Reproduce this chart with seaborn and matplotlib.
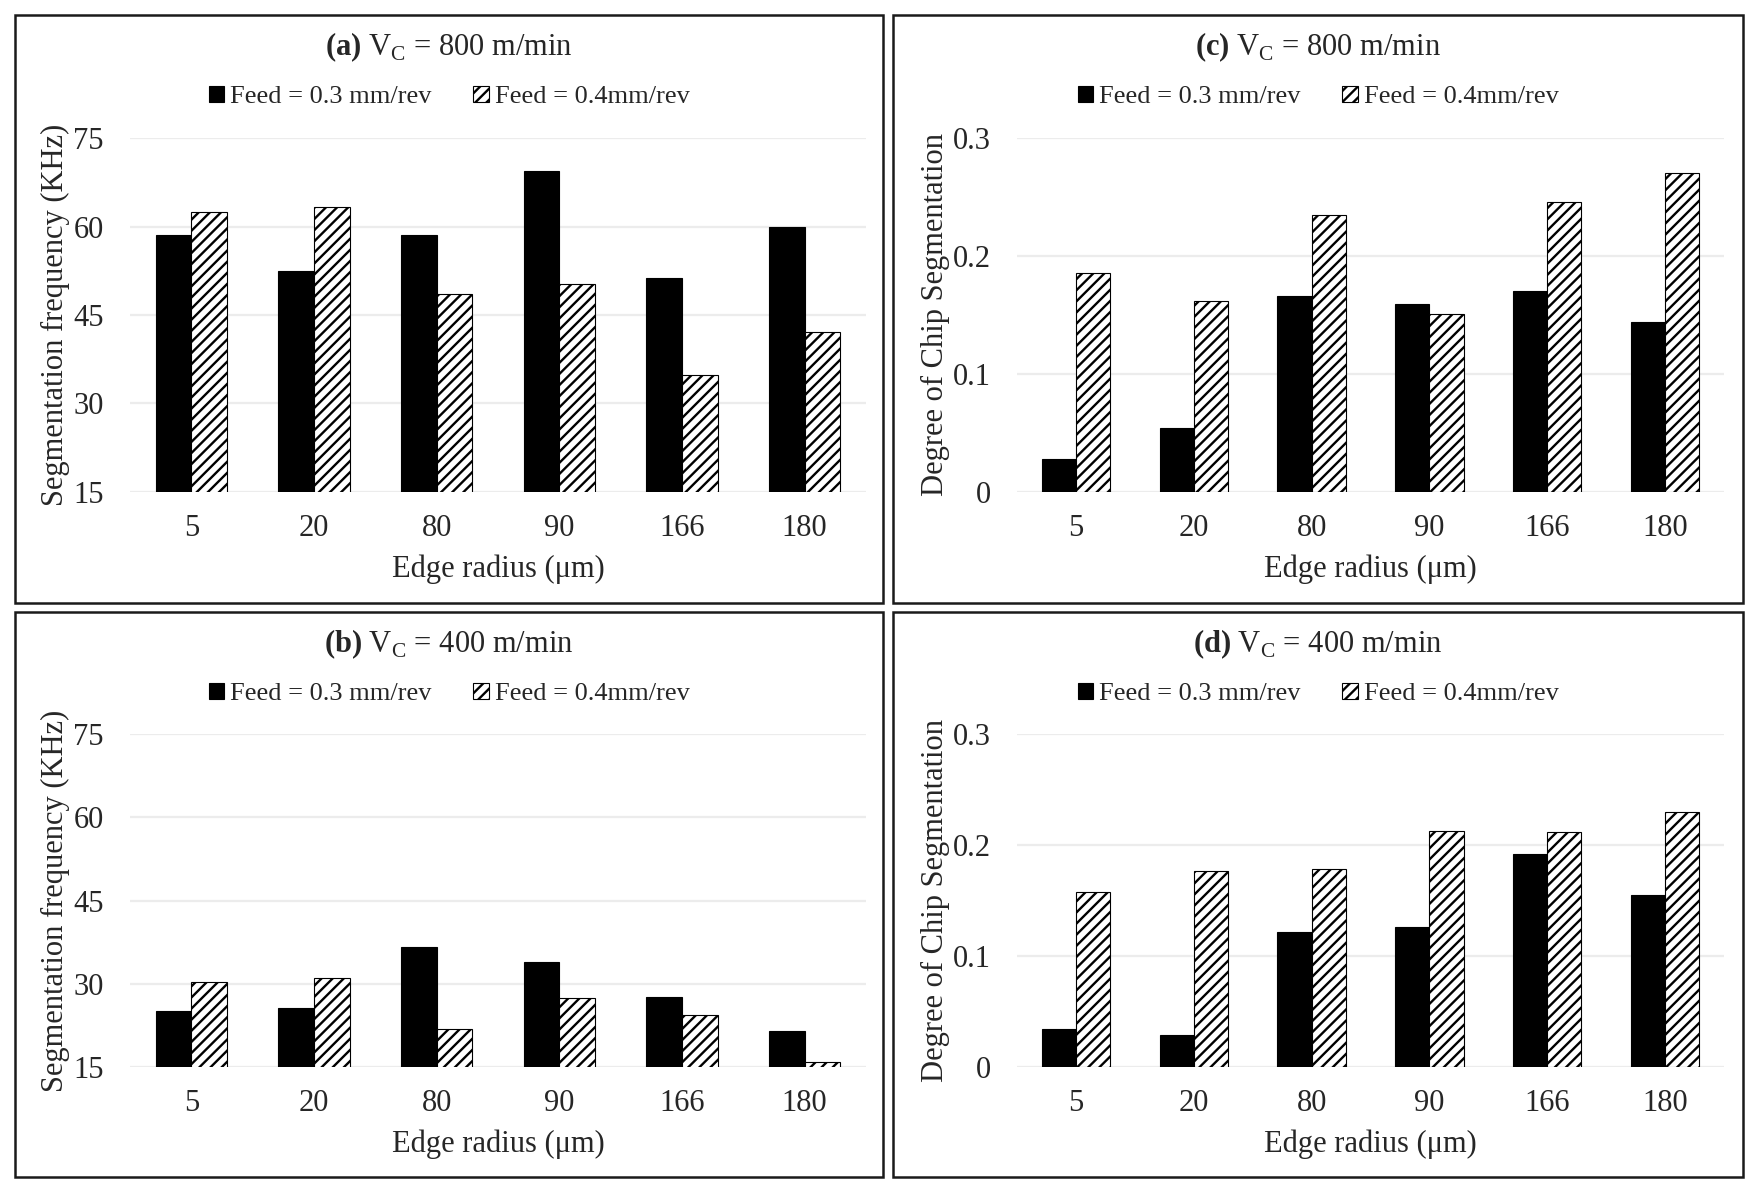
import pandas as pd
import numpy as np
import matplotlib
matplotlib.use('Agg')
import matplotlib.pyplot as plt
import seaborn as sns
from matplotlib.patches import Rectangle

# Data
radii = ['5', '20', '80', '90', '166', '180']
feeds = ['Feed = 0.3 mm/rev', 'Feed = 0.4mm/rev']

freq_800_f03 = [58.5, 52.5, 58.5, 69.4, 51.3, 60.0]
freq_800_f04 = [62.5, 63.3, 48.5, 50.2, 34.8, 42.1]
freq_400_f03 = [25.1, 25.6, 36.6, 34.0, 27.7, 21.4]
freq_400_f04 = [30.3, 31.0, 21.8, 27.5, 24.3, 15.9]

deg_800_f03 = [0.028, 0.054, 0.166, 0.159, 0.170, 0.144]
deg_800_f04 = [0.186, 0.162, 0.235, 0.151, 0.246, 0.270]
deg_400_f03 = [0.034, 0.029, 0.122, 0.126, 0.192, 0.155]
deg_400_f04 = [0.158, 0.177, 0.178, 0.213, 0.212, 0.230]

freq_ticks = [15, 30, 45, 60, 75]
deg_ticks = [0, 0.1, 0.2, 0.3]

sns.set_style('white')
plt.rcParams['font.family'] = ['Liberation Serif', 'DejaVu Serif']
plt.rcParams['mathtext.fontset'] = 'custom'
plt.rcParams['mathtext.rm'] = 'Liberation Serif'
plt.rcParams['mathtext.bf'] = 'Liberation Serif:bold'
plt.rcParams['hatch.linewidth'] = 1.7

W, H = 1759, 1196
fig = plt.figure(figsize=(W / 100, H / 100), dpi=100)


def long_df(a, b):
    return pd.DataFrame({
        'Radius': radii * 2,
        'Feed': [feeds[0]] * len(radii) + [feeds[1]] * len(radii),
        'Value': a + b,
    })


# panel specs: (frame px box, axes px box, title, data, ticks, ylabel, ticklabels)
panels = [
    ((15, 15, 883, 603), (130, 138, 866, 492), r'$\mathbf{(a)}$ V$_\mathrm{C}$ = 800 m/min',
     long_df(freq_800_f03, freq_800_f04), freq_ticks, 'Segmentation frequency (KHz)', ['15', '30', '45', '60', '75']),
    ((893, 15, 1743, 603), (1017, 138, 1724, 492), r'$\mathbf{(c)}$ V$_\mathrm{C}$ = 800 m/min',
     long_df(deg_800_f03, deg_800_f04), deg_ticks, 'Degree of Chip Segmentation', ['0', '0.1', '0.2', '0.3']),
    ((15, 612, 883, 1177), (130, 734, 866, 1067), r'$\mathbf{(b)}$ V$_\mathrm{C}$ = 400 m/min',
     long_df(freq_400_f03, freq_400_f04), freq_ticks, 'Segmentation frequency (KHz)', ['15', '30', '45', '60', '75']),
    ((893, 612, 1743, 1177), (1017, 734, 1724, 1067), r'$\mathbf{(d)}$ V$_\mathrm{C}$ = 400 m/min',
     long_df(deg_400_f03, deg_400_f04), deg_ticks, 'Degree of Chip Segmentation', ['0', '0.1', '0.2', '0.3']),
]

for frame, box, title, df, ticks, ylabel, ticklabels in panels:
    fx0, fy0, fx1, fy1 = frame
    fig.patches.append(Rectangle((fx0 / W, 1 - fy1 / H), (fx1 - fx0) / W, (fy1 - fy0) / H,
                                 transform=fig.transFigure, fill=False, edgecolor='#1a1a1a',
                                 linewidth=1.8, zorder=0))
    x0, y0, x1, y1 = box
    ax = fig.add_axes([x0 / W, 1 - y1 / H, (x1 - x0) / W, (y1 - y0) / H])
    sns.barplot(data=df, x='Radius', y='Value', hue='Feed', order=radii, hue_order=feeds,
                palette=['black', 'white'], width=0.58, gap=0, edgecolor='black',
                linewidth=0.8, legend=False, ax=ax, zorder=3)
    for bar in ax.containers[1]:
        bar.set_hatch('///')
    ax.set_ylim(ticks[0], ticks[-1])
    ax.set_yticks(ticks)
    ax.set_yticklabels(ticklabels, fontsize=22)
    ax.tick_params(axis='x', labelsize=22, length=0, pad=16)
    ax.tick_params(axis='y', length=0, pad=19)
    ax.yaxis.grid(True, color='#ececec', linewidth=1.6, zorder=0)
    ax.set_axisbelow(True)
    for s in ax.spines.values():
        s.set_visible(False)
    ax.set_xlabel('Edge radius (\u03bcm)', fontsize=22, labelpad=8)
    ax.set_ylabel(ylabel, fontsize=22, labelpad=2)

    cx = (fx0 + fx1) / 2 / W
    fig.text(cx, 1 - (fy0 + 32) / H, title, ha='center', va='center', fontsize=22)
    fig.legend(handles=[ax.containers[0][0], ax.containers[1][0]], labels=feeds,
               loc='center', bbox_to_anchor=(cx, 1 - (fy0 + 82) / H), bbox_transform=fig.transFigure,
               ncol=2, frameon=False, fontsize=19, handlelength=0.6, handleheight=0.6,
               handletextpad=0.2, columnspacing=1.6)

fig.savefig('out.png', dpi=100)
